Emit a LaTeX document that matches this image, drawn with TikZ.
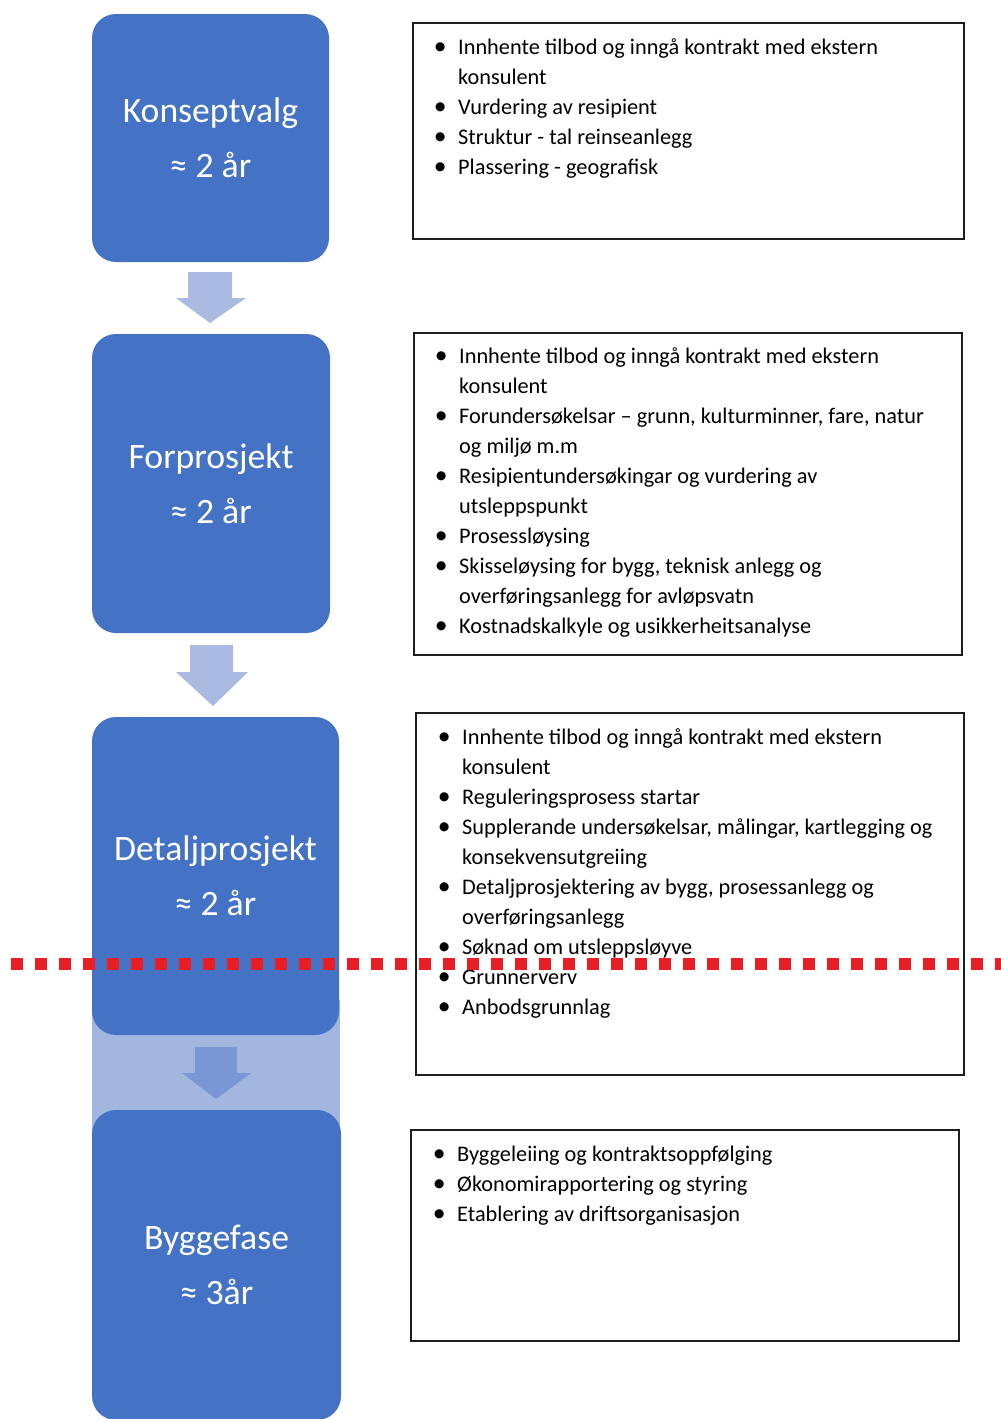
\documentclass[tikz,border=0pt]{standalone}
\usepackage{fontspec}
\setmainfont{Carlito}
\definecolor{phaseblue}{HTML}{4472C4}
\definecolor{arrowlight}{RGB}{170,186,224}
\definecolor{bandlight}{RGB}{163,182,224}
\definecolor{arrowmid}{RGB}{122,151,213}
\definecolor{dotred}{RGB}{234,30,36}
\definecolor{frame}{RGB}{30,30,30}
\newlength\bind
\setlength\bind{18pt}
\newcommand\bitem{\par\noindent\hangindent=\bind\hangafter=1\makebox[\bind][l]{\makebox[0pt]{\scalebox{1.15}{\textbullet}}}}
\newcommand\bulletblock[1]{\parbox[t]{540pt}{\fontsize{22.3}{30}\selectfont\raggedright\parskip=0pt #1}}
\begin{document}
\begin{tikzpicture}[x=1pt,y=-1pt,
  phase/.style={fill=phaseblue, rounded corners=24pt, text=white, align=center, inner sep=0pt,
    font=\fontsize{35.7}{55}\selectfont},
  infobox/.style={draw=frame, line width=2pt, fill=white, inner sep=0pt},
  infotext/.style={anchor=base west, inner sep=0pt, text=black},
  arrowshape/.style={fill=arrowlight, draw=none},
  redline/.style={draw=dotred, line width=12pt, dash pattern=on 12pt off 12pt}]
\useasboundingbox (0,0) rectangle (1001,1419);

% light band between the last two phases
\fill[bandlight] (92,1000) rectangle (340,1140);

% phase boxes
\node[phase, minimum width=237pt, minimum height=248pt] (k1) at (210.5,138) {Konseptvalg\\≈ 2 år};
\node[phase, minimum width=238pt, minimum height=299pt] (k2) at (211,483.5) {Forprosjekt\\≈ 2 år};
\node[phase, minimum width=247pt, minimum height=318pt] (k3) at (215.5,876) {Detaljprosjekt\\≈ 2 år};
\node[phase, minimum width=249pt, minimum height=310pt] (k4) at (216.5,1265) {Byggefase\\≈ 3år};

% block arrows
\fill[arrowshape] (188,272) -- (232,272) -- (232,298) -- (246,298) -- (210,323) -- (176,298) -- (188,298) -- cycle;
\fill[arrowshape] (190,645) -- (233,645) -- (233,672) -- (248,672) -- (213,706) -- (176,672) -- (190,672) -- cycle;
\fill[arrowshape, fill=arrowmid] (195,1047) -- (237,1047) -- (237,1073) -- (251,1073) -- (216,1099) -- (182,1073) -- (195,1073) -- cycle;

% info boxes
\node[infobox, minimum width=551pt, minimum height=216pt] (t1) at (688.5,131) {};
\node[infobox, minimum width=548pt, minimum height=322pt] (t2) at (688,494) {};
\node[infobox, minimum width=548pt, minimum height=362pt] (t3) at (690,894) {};
\node[infobox, minimum width=548pt, minimum height=211pt] (t4) at (685,1235.5) {};

\node[infotext] (t1txt) at (440,54) {\bulletblock{%
\bitem Innhente tilbod og inngå kontrakt med ekstern\newline konsulent
\bitem Vurdering av resipient
\bitem Struktur - tal reinseanlegg
\bitem Plassering - geografisk}};

\node[infotext] (t2txt) at (441,363) {\bulletblock{%
\bitem Innhente tilbod og inngå kontrakt med ekstern\newline konsulent
\bitem Forundersøkelsar – grunn, kulturminner, fare, natur\newline og miljø m.m
\bitem Resipientundersøkingar og vurdering av\newline utsleppspunkt
\bitem Prosessløysing
\bitem Skisseløysing for bygg, teknisk anlegg og\newline overføringsanlegg for avløpsvatn
\bitem Kostnadskalkyle og usikkerheitsanalyse}};

\node[infotext] (t3txt) at (444,744) {\bulletblock{%
\bitem Innhente tilbod og inngå kontrakt med ekstern\newline konsulent
\bitem Reguleringsprosess startar
\bitem Supplerande undersøkelsar, målingar, kartlegging og\newline konsekvensutgreiing
\bitem Detaljprosjektering av bygg, prosessanlegg og\newline overføringsanlegg
\bitem Søknad om utsleppsløyve
\bitem Grunnerverv
\bitem Anbodsgrunnlag}};

\node[infotext] (t4txt) at (439,1161) {\bulletblock{%
\bitem Byggeleiing og kontraktsoppfølging
\bitem Økonomirapportering og styring
\bitem Etablering av driftsorganisasjon}};

% red dotted divider
\draw[redline] (11,964) -- (1001,964);
\end{tikzpicture}
\end{document}
